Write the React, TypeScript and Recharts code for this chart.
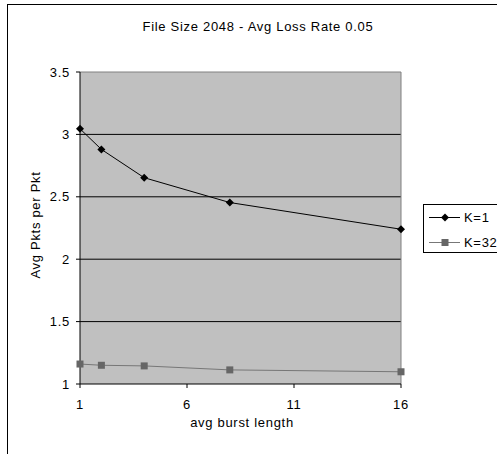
import React from "react";
import { LineChart, Line, XAxis, YAxis, CartesianGrid, ReferenceLine } from "recharts";

const burstLengths = [1, 2, 4, 8, 16];
const k1Values = [3.045, 2.88, 2.653, 2.454, 2.24];
const k32Values = [1.16, 1.15, 1.145, 1.113, 1.098];

const xTicks = [1, 6, 11, 16];
const yTicks = [1, 1.5, 2, 2.5, 3, 3.5];

const data = burstLengths.map((b, i) => ({ burst: b, k1: k1Values[i], k32: k32Values[i] }));

const FONT = "Arial, 'Liberation Sans', sans-serif";
const SPACING = "0.7px";
const PLOT_BG = "#c0c0c0";
const K32_LINE = "#777777";
const K32_MARK = "#666666";

const textStyle = { fontFamily: FONT, fontSize: 13, letterSpacing: SPACING };

const Diamond = (props: any) => {
  const { cx, cy, index } = props;
  const r = 4;
  return (
    <polygon
      key={`d-${index}`}
      points={`${cx},${cy - r} ${cx + r},${cy} ${cx},${cy + r} ${cx - r},${cy}`}
      fill="#000"
    />
  );
};

const Square = (props: any) => {
  const { cx, cy, index } = props;
  const s = 3.5;
  return <rect key={`s-${index}`} x={cx - s} y={cy - s} width={s * 2} height={s * 2} fill={K32_MARK} />;
};

const LegendBox = () => (
  <div
    style={{
      position: "absolute",
      left: 423,
      top: 204,
      width: 90,
      height: 47,
      border: "1px solid #000",
      background: "#fff",
      ...textStyle,
    }}
  >
    {[
      { name: "K=1", color: "#000", mark: "diamond" },
      { name: "K=32", color: K32_LINE, mark: "square" },
    ].map((e, i) => (
      <div key={e.name} style={{ position: "absolute", left: 5, top: 5 + i * 25, height: 15, display: "flex", alignItems: "center" }}>
        <svg width={32} height={15}>
          <line x1={0} y1={7.5} x2={31} y2={7.5} stroke={e.color} strokeWidth={1} />
          {e.mark === "diamond" ? (
            <polygon points="16,3.5 20,7.5 16,11.5 12,7.5" fill="#000" />
          ) : (
            <rect x={12.5} y={4} width={7} height={7} fill={K32_MARK} />
          )}
        </svg>
        <span style={{ marginLeft: 3 }}>{e.name}</span>
      </div>
    ))}
  </div>
);

export default function App() {
  return (
    <div style={{ position: "fixed", left: 0, top: 0, width: 497, height: 454, background: "#fff", overflow: "hidden" }}>
      <div style={{ position: "absolute", left: 7, top: 4, width: 520, height: 480, border: "1px solid #000" }} />
      <div
        style={{
          position: "absolute",
          left: 258,
          top: 26,
          transform: "translate(-50%, -50%)",
          whiteSpace: "nowrap",
          ...textStyle,
        }}
      >
        File Size 2048 - Avg Loss Rate 0.05
      </div>
      <LineChart
        width={497}
        height={454}
        data={data}
        margin={{ top: 72, right: 96, left: 30, bottom: 40 }}
        style={{ position: "absolute", left: 0, top: 0 }}
      >
        <CartesianGrid vertical={false} horizontalValues={[1.5, 2, 2.5, 3]} stroke="#000" fill={PLOT_BG} fillOpacity={1} />
        <ReferenceLine y={3.5} stroke="#808080" />
        <ReferenceLine x={16} stroke="#808080" />
        <XAxis
          dataKey="burst"
          type="number"
          domain={[1, 16]}
          ticks={xTicks}
          height={30}
          tickSize={4}
          tickMargin={12}
          stroke="#000"
          tick={{ fill: "#000", ...textStyle }}
        />
        <YAxis
          type="number"
          domain={[1, 3.5]}
          ticks={yTicks}
          width={50}
          tickSize={4}
          tickMargin={6}
          stroke="#000"
          tick={{ fill: "#000", ...textStyle }}
        />
        <Line dataKey="k32" stroke={K32_LINE} strokeWidth={1} dot={Square} activeDot={false} isAnimationActive={false} />
        <Line dataKey="k1" stroke="#000" strokeWidth={1} dot={Diamond} activeDot={false} isAnimationActive={false} />
      </LineChart>
      <div
        style={{
          position: "absolute",
          left: 35,
          top: 225,
          transform: "translate(-50%, -50%) rotate(-90deg)",
          whiteSpace: "nowrap",
          ...textStyle,
        }}
      >
        Avg Pkts per Pkt
      </div>
      <div
        style={{
          position: "absolute",
          left: 242,
          top: 422,
          transform: "translate(-50%, -50%)",
          whiteSpace: "nowrap",
          ...textStyle,
        }}
      >
        avg burst length
      </div>
      <LegendBox />
    </div>
  );
}
